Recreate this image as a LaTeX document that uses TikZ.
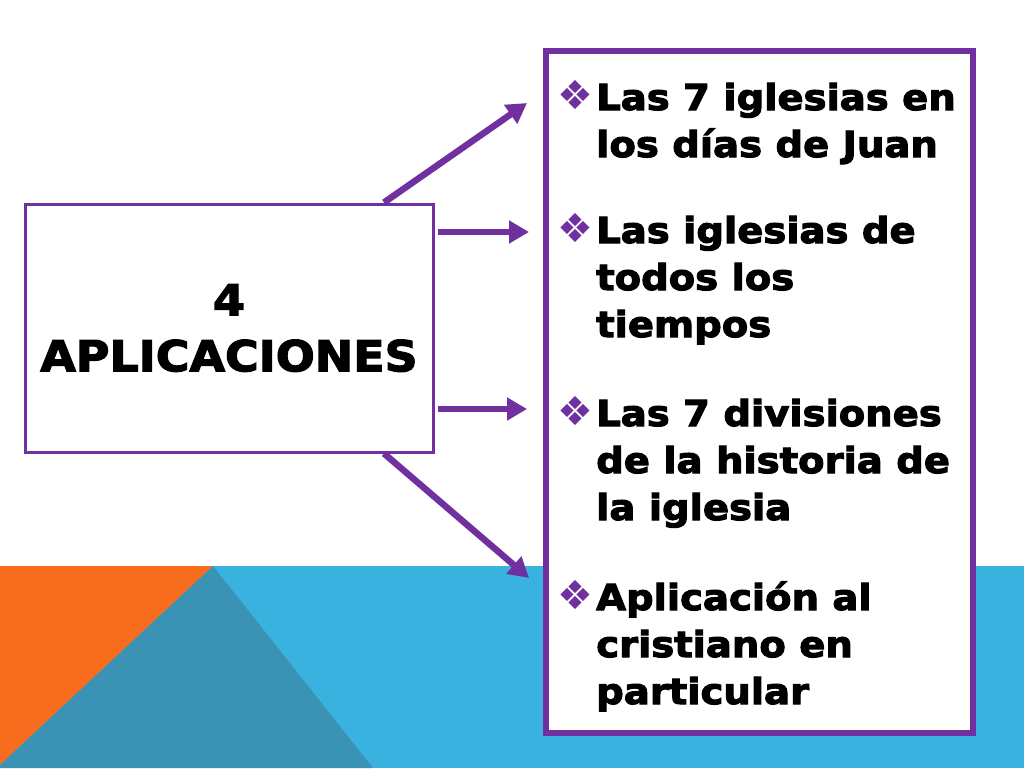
\documentclass[tikz,border=0pt]{standalone}
\usepackage{fontspec}
\usetikzlibrary{arrows.meta, positioning}
\newfontfamily\heavyfont{DejaVu Sans}[FakeStretch=1.08, FakeBold=3]
\newfontfamily\dingfont{DejaVu Sans}

\definecolor{appurple}{HTML}{7030A0}
\definecolor{bandblue}{HTML}{3AB2E0}
\definecolor{bandteal}{HTML}{3A93B4}
\definecolor{bandorange}{HTML}{F76C1D}

\tikzset{
  box/.style={draw=appurple, fill=white, rectangle, inner sep=0pt},
  arrow/.style={draw=appurple, line width=6.5pt, -{Triangle[length=20pt,width=22pt]}},
  itemtext/.style={anchor=base west, inner sep=0pt, align=left,
    font=\heavyfont\bfseries\fontsize{35.7}{47}\selectfont},
  bulletmark/.style={inner sep=0pt, text=appurple, font=\dingfont\fontsize{40}{40}\selectfont},
}

\begin{document}
\begin{tikzpicture}[x=1pt, y=-1pt]
  % background and bottom band
  \useasboundingbox (0,0) rectangle (1024,768);
  \fill[white] (0,0) rectangle (1024,768);
  \fill[bandblue] (0,566) rectangle (1024,768);
  \fill[bandorange] (0,566) -- (213,566) -- (0,765) -- cycle;
  \fill[bandteal] (213,566) -- (373,768) -- (0,768) -- (0,765) -- cycle;

  % the two boxes
  \node[box, line width=3pt, minimum width=408pt, minimum height=248pt, align=center,
    font=\heavyfont\bfseries\fontsize{42.5}{56}\selectfont] (apps) at (229,328) {4\\APLICACIONES};
  \node[box, line width=6.5pt, minimum width=427pt, minimum height=682pt] (list) at (759.5,392) {};

  % arrow ends
  \coordinate (t1) at (527,103);
  \coordinate (t2) at (529,232);
  \coordinate (t3) at (527,409);
  \coordinate (t4) at (529,578);

  \draw[arrow] (apps.39) -- (t1);
  \draw[arrow, shorten <=3pt] (apps.east |- t2) -- (t2);
  \draw[arrow, shorten <=3pt] (apps.east |- t3) -- (t3);
  \draw[arrow] (apps.-39) -- (t4);

  % items (anchored on the baseline of their last line)
  \node[itemtext] (i1) at (596,157) {Las 7 iglesias en\\los días de Juan};
  \node[itemtext] (i2) at (596,337) {Las iglesias de\\todos los\\tiempos};
  \node[itemtext] (i3) at (596,520) {Las 7 divisiones\\de la historia de\\la iglesia};
  \node[itemtext] (i4) at (596,704) {Aplicación al\\cristiano en\\particular};

  \node[bulletmark] (b1) at ([xshift=-21pt, yshift=62pt]i1.base west) {❖};
  \node[bulletmark] (b2) at ([xshift=-21pt, yshift=109pt]i2.base west) {❖};
  \node[bulletmark] (b3) at ([xshift=-21pt, yshift=109pt]i3.base west) {❖};
  \node[bulletmark] (b4) at ([xshift=-21pt, yshift=109pt]i4.base west) {❖};
\end{tikzpicture}
\end{document}
